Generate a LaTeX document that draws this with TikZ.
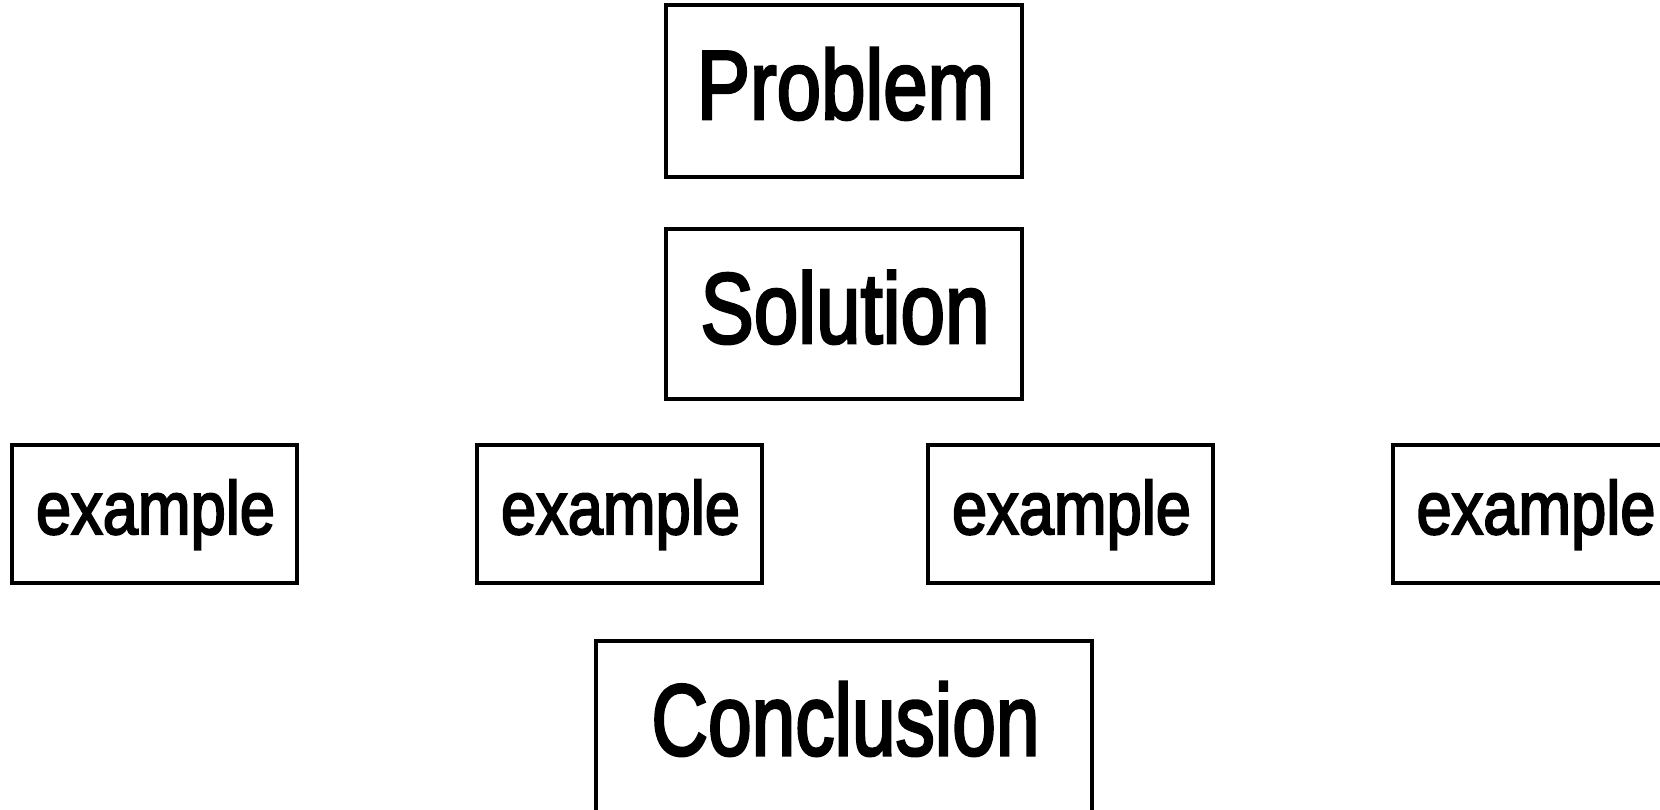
\documentclass[tikz,border=0pt]{standalone}
\usepackage{fontspec}
\setmainfont{Liberation Sans}
\newfontfamily\medf[FakeBold=3.0]{Liberation Sans}
\begin{document}
\begin{tikzpicture}[x=1pt,y=1pt,
  box/.style={draw=black, line width=3.2pt, rectangle, inner sep=0pt},
  lbl/.style={anchor=base, inner sep=0pt}]
\clip (0,0) rectangle (1660,810);
\fill[white] (0,0) rectangle (1660,810);
% boxes
\node[box, minimum width=356pt, minimum height=172pt] (problem) at (844,719) {};
\node[box, minimum width=356pt, minimum height=170pt] (solution) at (844,496) {};
\node[box, minimum width=285pt, minimum height=138pt] (ex1) at (154.5,296) {};
\node[box, minimum width=285pt, minimum height=138pt] (ex2) at (619.5,296) {};
\node[box, minimum width=285pt, minimum height=138pt] (ex3) at (1070.5,296) {};
\node[box, minimum width=285pt, minimum height=138pt] (ex4) at (1535.5,296) {};
\node[box, minimum width=496pt, minimum height=175pt] (conclusion) at (844,81.5) {};
% labels
\node[lbl, font=\fontsize{98}{100}\medf] (tproblem) at (845.5,691) {\scalebox{0.815}[1]{Problem}};
\node[lbl, font=\fontsize{100}{102}\medf] (tsolution) at (845,467) {\scalebox{0.80}[1]{Solution}};
\node[lbl, font=\fontsize{75}{77}\medf] (tex1) at (155.5,276) {\scalebox{0.843}[1]{example}};
\node[lbl, font=\fontsize{75}{77}\medf] (tex2) at (620.5,276) {\scalebox{0.843}[1]{example}};
\node[lbl, font=\fontsize{75}{77}\medf] (tex3) at (1071.5,276) {\scalebox{0.843}[1]{example}};
\node[lbl, font=\fontsize{75}{77}\medf] (tex4) at (1536,276) {\scalebox{0.843}[1]{example}};
\node[lbl, font=\fontsize{101}{103}\medf] (tconclusion) at (845.5,55) {\scalebox{0.777}[1]{Conclusion}};
\end{tikzpicture}
\end{document}
